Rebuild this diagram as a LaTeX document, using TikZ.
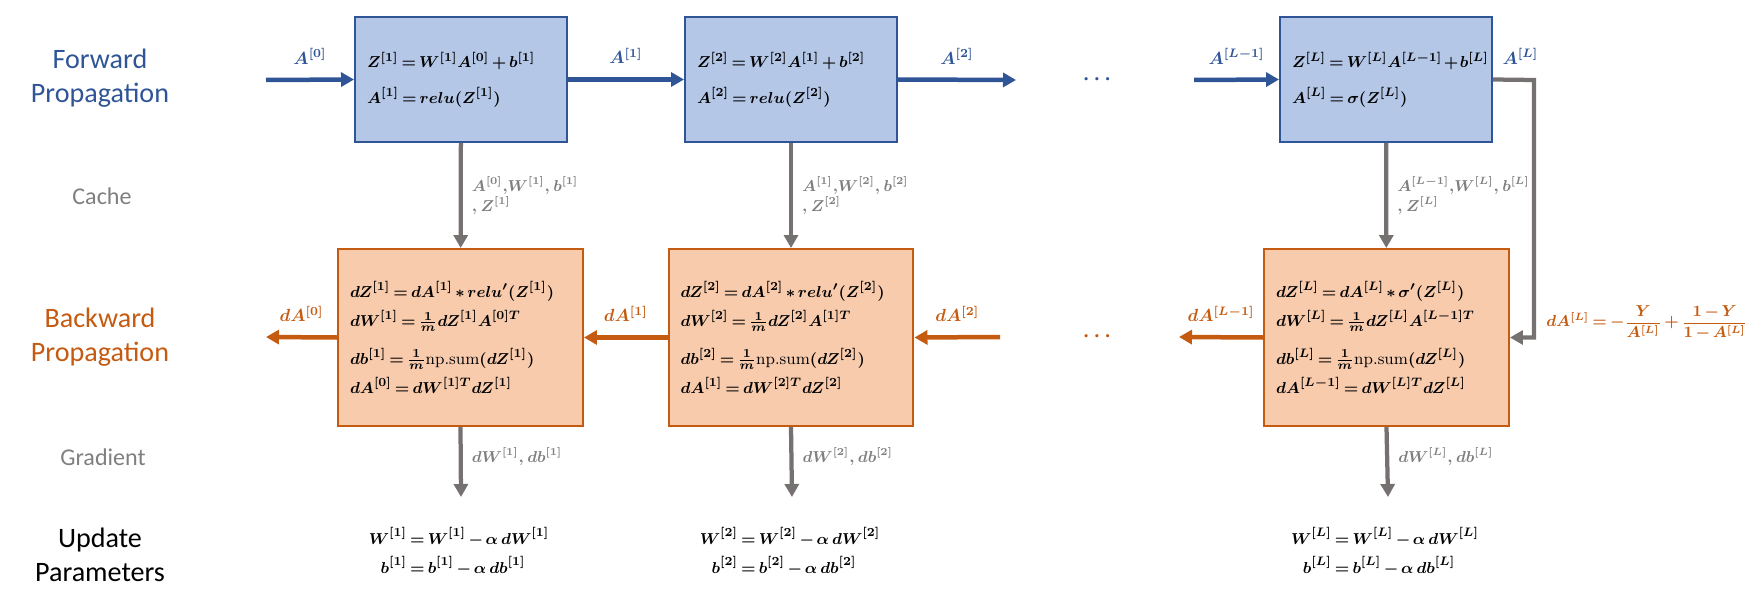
\documentclass[tikz,border=0pt]{standalone}
\usepackage{amsmath}
\usepackage{amssymb}
\usepackage{xcolor}
\usepackage{fontspec}
\setmainfont{Carlito}
\newfontfamily\lmroman{Latin Modern Roman}
\usetikzlibrary{arrows.meta}
\usetikzlibrary{positioning}
\definecolor{fwdblue}{HTML}{2F5597}
\definecolor{fwdfill}{HTML}{B4C7E7}
\definecolor{bwdorange}{HTML}{C55A11}
\definecolor{bwdfill}{HTML}{F8CBAD}
\definecolor{linegray}{HTML}{767171}
\definecolor{labelgray}{HTML}{7F7F7F}
\thickmuskip=3mu plus 2mu
\medmuskip=2.5mu plus 1mu minus 1mu
\relpenalty=10000
\binoppenalty=10000
\newcommand{\eqsize}{\fontsize{9.4}{16.5}\selectfont}
\newcommand{\npsum}{\text{\lmroman np.sum}}
\tikzstyle{fwdbox} = [draw=fwdblue, fill=fwdfill, line width=0.04cm,
rectangle, text width=3.76cm, inner xsep=0.24cm, minimum height=2.5cm,
align=left, font=\boldmath\fontsize{9.4}{20}\selectfont]
\tikzstyle{bwdbox} = [draw=bwdorange, fill=bwdfill, line width=0.04cm,
rectangle, text width=4.42cm, inner xsep=0.24cm, minimum height=3.54cm,
align=left, font=\boldmath\eqsize]
\tikzstyle{rowtitle} = [align=center, font=\fontsize{16}{19}\selectfont]
\tikzstyle{subtitle} = [text=labelgray, font=\fontsize{13.7}{16}\selectfont]
\tikzstyle{fwdarrow} = [draw=fwdblue, line width=0.09cm,
-{Triangle[length=0.26cm, width=0.28cm]}]
\tikzstyle{bwdarrow} = [draw=bwdorange, line width=0.09cm,
-{Triangle[length=0.26cm, width=0.28cm]}]
\tikzstyle{grayarrow} = [draw=linegray, line width=0.085cm,
-{Triangle[length=0.26cm, width=0.28cm]}]
\tikzstyle{fwdlabel} = [text=fwdblue, font=\boldmath\fontsize{10}{12}\selectfont]
\tikzstyle{bwdlabel} = [text=bwdorange, font=\boldmath\fontsize{10}{12}\selectfont]
\tikzstyle{graylabel} = [text=labelgray, align=left, inner sep=0.18cm,
font=\boldmath\fontsize{8.8}{11.5}\selectfont]
\tikzstyle{updeq} = [font=\boldmath\eqsize]

\begin{document}
\begin{tikzpicture}[x=0.02cm, y=-0.02cm]
        \useasboundingbox (0,0) rectangle (1745,598);
        % row titles
        \node [rowtitle, text=fwdblue] (tfwd) at (100,78) {Forward\\Propagation};
        \node [subtitle] (tcache) at (102,196) {Cache};
        \node [rowtitle, text=bwdorange] (tbwd) at (100,337) {Backward\\Propagation};
        \node [subtitle] (tgrad) at (103,457) {Gradient};
        \node [rowtitle] (tupd) at (100,555) {Update\\Parameters};
        % forward boxes
        \node [fwdbox] (f1) at (461,79.5) {%
            $Z^{[1]} = W^{[1]}A^{[0]} + b^{[1]}$\\
            $A^{[1]} = relu(Z^{[1]})$};
        \node [fwdbox] (f2) at (791,79.5) {%
            $Z^{[2]} = W^{[2]}A^{[1]} + b^{[2]}$\\
            $A^{[2]} = relu(Z^{[2]})$};
        \node [fwdbox] (fL) at (1386,79.5) {%
            $Z^{[L]} = W^{[L]}A^{[L-1]} + b^{[L]}$\\
            $A^{[L]} = \sigma(Z^{[L]})$};
        % backward boxes
        \node [bwdbox] (b1) at (460.5,337.5) {%
            $dZ^{[1]} = dA^{[1]} * relu'(Z^{[1]})$\\
            $dW^{[1]} = \frac{1}{m} dZ^{[1]} A^{[0]T}$\\[5pt]
            $db^{[1]} = \frac{1}{m}\npsum(dZ^{[1]})$\\
            $dA^{[0]} = dW^{[1]T} dZ^{[1]}$};
        \node [bwdbox] (b2) at (791,337.5) {%
            $dZ^{[2]} = dA^{[2]} * relu'(Z^{[2]})$\\
            $dW^{[2]} = \frac{1}{m} dZ^{[2]} A^{[1]T}$\\[5pt]
            $db^{[2]} = \frac{1}{m}\npsum(dZ^{[2]})$\\
            $dA^{[1]} = dW^{[2]T} dZ^{[2]}$};
        \node [bwdbox] (bL) at (1386.5,337.5) {%
            $dZ^{[L]} = dA^{[L]} * \sigma'(Z^{[L]})$\\
            $dW^{[L]} = \frac{1}{m} dZ^{[L]} A^{[L-1]T}$\\[5pt]
            $db^{[L]} = \frac{1}{m}\npsum(dZ^{[L]})$\\
            $dA^{[L-1]} = dW^{[L]T} dZ^{[L]}$};
        % update equations
        \node [updeq] (u1) at (459,553) {$\begin{aligned}
            W^{[1]} &= W^{[1]} - \alpha\, dW^{[1]}\\[-3pt]
            b^{[1]} &= b^{[1]} - \alpha\, db^{[1]}\end{aligned}$};
        \node [updeq] (u2) at (790,553) {$\begin{aligned}
            W^{[2]} &= W^{[2]} - \alpha\, dW^{[2]}\\[-3pt]
            b^{[2]} &= b^{[2]} - \alpha\, db^{[2]}\end{aligned}$};
        \node [updeq] (uL) at (1385,553) {$\begin{aligned}
            W^{[L]} &= W^{[L]} - \alpha\, dW^{[L]}\\[-3pt]
            b^{[L]} &= b^{[L]} - \alpha\, db^{[L]}\end{aligned}$};
        % free ends
        \coordinate (a0) at (266,80);
        \coordinate (a2) at (1016,80);
        \coordinate (aLm1) at (1194,80);
        \coordinate (aLturn) at (1534,80);
        \coordinate (da0) at (266,337);
        \coordinate (da2) at (1000,337);
        \coordinate (daLm1) at (1179,337);
        \coordinate (g1) at (461,497);
        \coordinate (g2) at (792,497);
        \coordinate (gL) at (1388,497);
        \node [text=fwdblue, font=\boldmath\fontsize{13}{15}\selectfont] (fdots) at (1099,80) {$\cdots$};
        \node [text=bwdorange, font=\boldmath\fontsize{13}{15}\selectfont] (bdots) at (1099,337) {$\cdots$};
        % forward propagation
        \draw [fwdarrow] (a0) -- (f1.west) node [fwdlabel, midway, above=0.15cm] {$A^{[0]}$};
        \draw [fwdarrow] (f1.east) -- (f2.west) node [fwdlabel, midway, above=0.15cm] {$A^{[1]}$};
        \draw [fwdarrow] (f2.east) -- (a2) node [fwdlabel, midway, above=0.15cm] {$A^{[2]}$};
        \draw [fwdarrow] (aLm1) -- (fL.west) node [fwdlabel, midway, above=0.15cm] {$A^{[L-1]}$};
        \draw [grayarrow] (fL.east) -- (aLturn) node [fwdlabel, midway, above=0.15cm, xshift=0.14cm] {$A^{[L]}$} |- (bL.east);
        \node [bwdlabel, font=\boldmath\fontsize{8.9}{11}\selectfont, anchor=west, inner sep=0pt] (daL) at (1546,323)
            {$dA^{[L]} = -\dfrac{Y}{A^{[L]}} + \dfrac{1-Y}{1-A^{[L]}}$};
        % backward propagation
        \draw [bwdarrow] (b1.west) -- (da0) node [bwdlabel, midway, above=0.15cm] {$dA^{[0]}$};
        \draw [bwdarrow] (b2.west) -- (b1.east) node [bwdlabel, midway, above=0.15cm] {$dA^{[1]}$};
        \draw [bwdarrow] (da2) -- (b2.east) node [bwdlabel, midway, above=0.15cm] {$dA^{[2]}$};
        \draw [bwdarrow] (bL.west) -- (daLm1) node [bwdlabel, midway, above=0.15cm] {$dA^{[L-1]}$};
        % cache
        \draw [grayarrow] (f1) -- (b1) node [graylabel, midway, right] {$A^{[0]}{,}W^{[1]}{,}\ b^{[1]}$\\${,}\ Z^{[1]}$};
        \draw [grayarrow] (f2) -- (b2) node [graylabel, midway, right] {$A^{[1]}{,}W^{[2]}{,}\ b^{[2]}$\\${,}\ Z^{[2]}$};
        \draw [grayarrow] (fL) -- (bL) node [graylabel, midway, right] {$A^{[L-1]}{,}W^{[L]}{,}\ b^{[L]}$\\${,}\ Z^{[L]}$};
        % gradient
        \draw [grayarrow] (b1.south) -- (g1) node [graylabel, pos=0.42, right] {$dW^{[1]}{,}\ db^{[1]}$};
        \draw [grayarrow] (b2.south) -- (g2) node [graylabel, pos=0.42, right] {$dW^{[2]}{,}\ db^{[2]}$};
        \draw [grayarrow] (bL.south) -- (gL) node [graylabel, pos=0.42, right] {$dW^{[L]}{,}\ db^{[L]}$};
    \end{tikzpicture}
\end{document}
